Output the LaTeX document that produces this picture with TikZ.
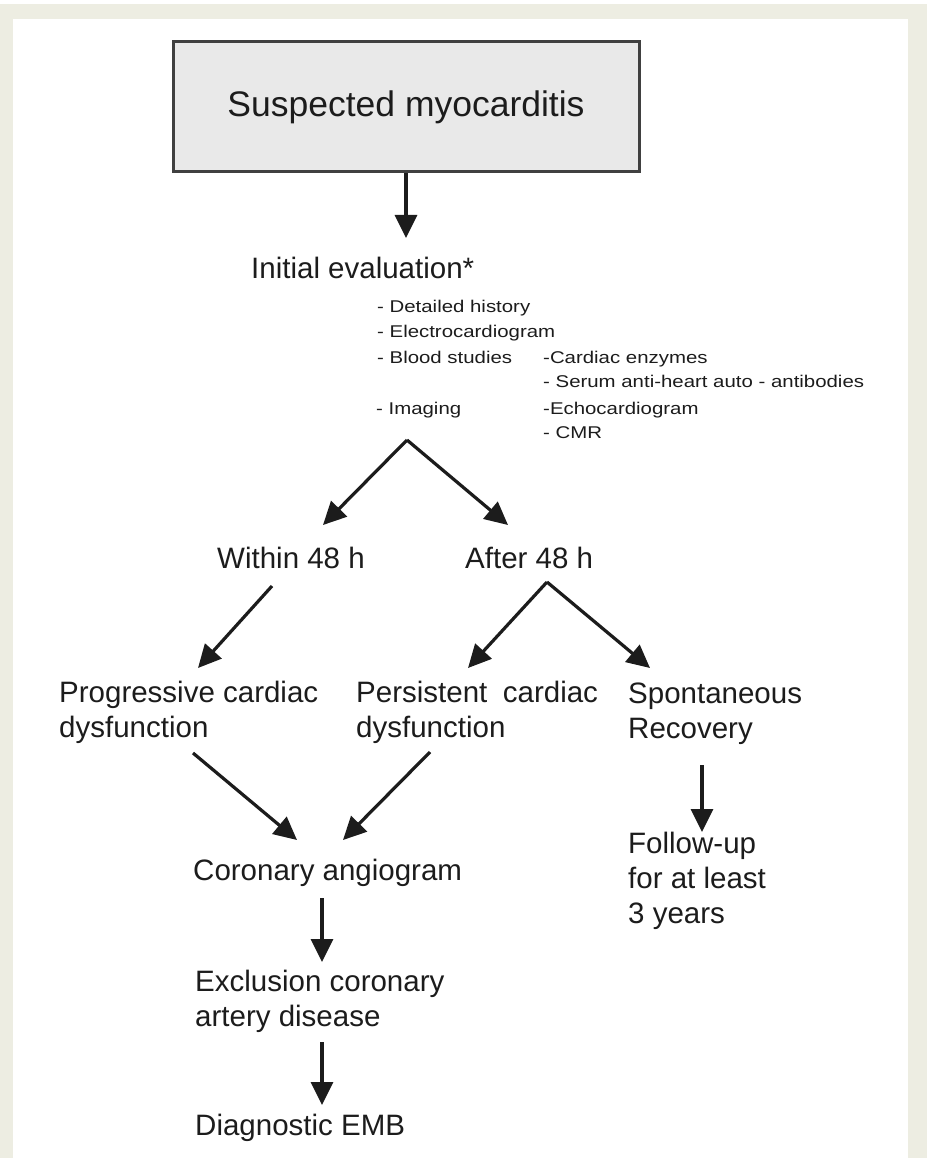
\documentclass[tikz,border=0pt]{standalone}
\usepackage{fontspec}
\setmainfont{Liberation Sans}
\newfontfamily\smallfont[FakeStretch=1.2]{Liberation Sans}
\usetikzlibrary{arrows.meta}
\definecolor{bg}{RGB}{237,237,226}
\definecolor{boxfill}{RGB}{233,233,233}
\definecolor{boxline}{RGB}{64,64,64}
\definecolor{ink}{RGB}{28,28,28}
\begin{document}
\begin{tikzpicture}[x=1pt,y=-1pt,
  arr/.style={draw=ink, line width=3.2pt, -{Triangle[length=23pt,width=22pt]}},
  lbl/.style={anchor=base west, inner sep=0pt, text=ink, font=\fontsize{29.5}{35}\selectfont, align=left},
  smalltxt/.style={anchor=base west, inner sep=0pt, text=ink, font=\smallfont\fontsize{17}{17}\selectfont}]
% background
\fill[bg] (0,0) rectangle (927,1158);
\fill[white] (0,0) rectangle (927,4);
\fill[white] (13,19) rectangle (908,1158);
\useasboundingbox (0,0) rectangle (927,1158);

% title box
\node[draw=boxline, fill=boxfill, line width=3pt, minimum width=466pt, minimum height=130pt,
      inner sep=0pt, text=ink, font=\fontsize{35.5}{40}\selectfont] (title) at (406,107) {Suspected myocarditis};

% texts (multi-line nodes are anchored at the baseline of their last line)
\node[lbl] (init) at (251,278) {Initial evaluation*};
\node[smalltxt] (hist) at (377,312) {- Detailed history};
\node[smalltxt] (ecg) at (377,337) {- Electrocardiogram};
\node[smalltxt] (blood) at (377,363) {- Blood studies};
\node[smalltxt] (enz) at (543,363) {-Cardiac enzymes};
\node[smalltxt] (serum) at (543,387) {- Serum anti-heart auto - antibodies};
\node[smalltxt] (imag) at (376,414) {- Imaging};
\node[smalltxt] (echo) at (543,414) {-Echocardiogram};
\node[smalltxt] (cmr) at (543,438) {- CMR};

\node[lbl] (within) at (217,568) {Within 48 h};
\node[lbl] (after) at (465,568) {After 48 h};
\node[lbl] (prog) at (59,737) {Progressive cardiac\\dysfunction};
\node[lbl] (pers) at (356,737) {Persistent\hspace{0.25em} cardiac\\dysfunction};
\node[lbl] (spont) at (628,738) {Spontaneous\\Recovery};
\node[lbl] (follow) at (628,923) {Follow-up\\for at least\\3 years};
\node[lbl] (coro) at (193,880) {Coronary angiogram};
\node[lbl] (excl) at (195,1026) {Exclusion coronary\\artery disease};
\node[lbl] (emb) at (195,1135) {Diagnostic EMB};

% connector points
\coordinate (t1) at (406,238);
\coordinate (ap1) at (407,440);
\coordinate (wtip) at (323,525);
\coordinate (atip) at (508,525);
\coordinate (ws) at (272,586);
\coordinate (ptip) at (198,668);
\coordinate (ap2) at (547,582);
\coordinate (pstip) at (468,668);
\coordinate (sptip) at (650,668);
\coordinate (prs) at (193,753);
\coordinate (c1tip) at (297,840);
\coordinate (pss) at (430,752);
\coordinate (c2tip) at (343,840);
\coordinate (sps) at (702,765);
\coordinate (ftip) at (702,832);
\coordinate (cs) at (322,898);
\coordinate (etip) at (322,962);
\coordinate (es) at (322,1042);
\coordinate (dtip) at (322,1105);

% arrows
\draw[arr] (title.south) -- (t1);
\draw[arr] (ap1) -- (wtip);
\draw[arr] (ap1) -- (atip);
\draw[arr] (ws) -- (ptip);
\draw[arr] (ap2) -- (pstip);
\draw[arr] (ap2) -- (sptip);
\draw[arr] (prs) -- (c1tip);
\draw[arr] (pss) -- (c2tip);
\draw[arr] (sps) -- (ftip);
\draw[arr] (cs) -- (etip);
\draw[arr] (es) -- (dtip);
\end{tikzpicture}
\end{document}
